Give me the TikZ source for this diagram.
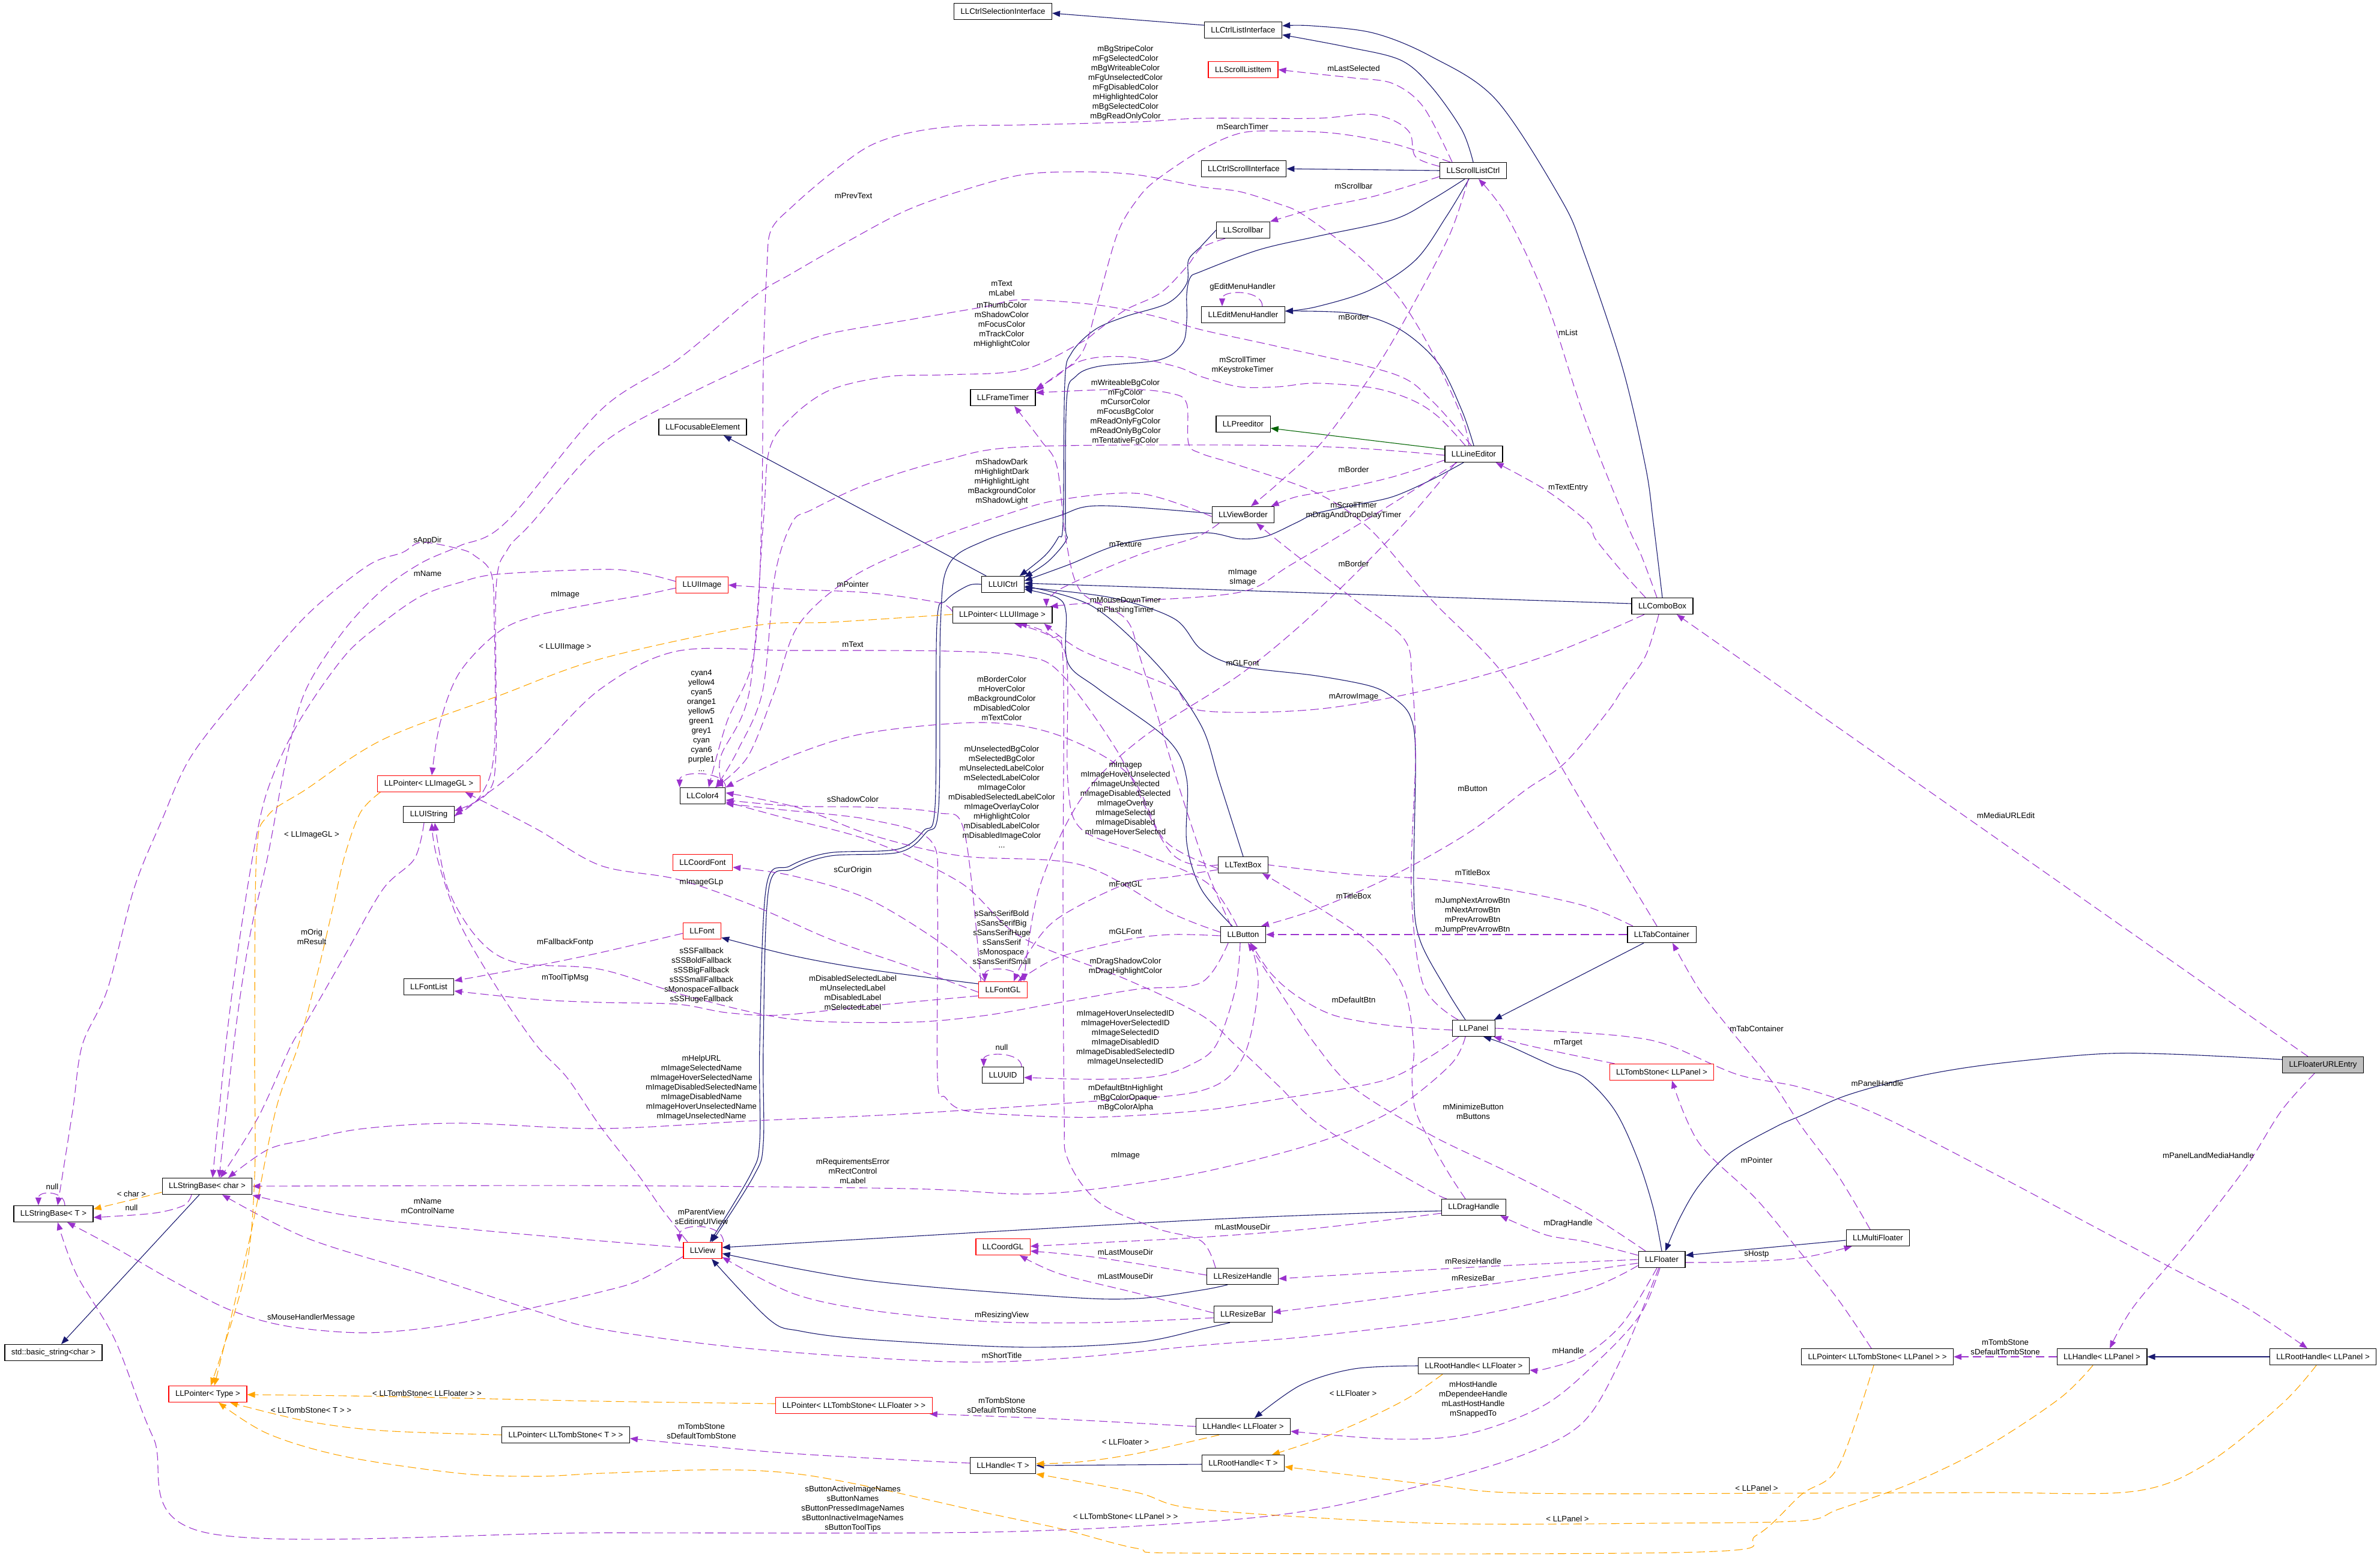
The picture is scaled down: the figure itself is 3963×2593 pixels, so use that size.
\documentclass[tikz,border=0pt]{standalone}
\usepackage{fontspec}
\setmainfont{Liberation Sans}
\usetikzlibrary{arrows.meta,backgrounds}
\definecolor{navy}{HTML}{191970}
\definecolor{usepurple}{HTML}{9A32CD}
\definecolor{tmplorange}{HTML}{FFA500}
\definecolor{protgreen}{HTML}{006400}
\definecolor{rootgrey}{HTML}{BFBFBF}

\begin{document}
\begin{tikzpicture}[x=1pt,y=-1pt,
  font=\fontsize{13.2}{16}\selectfont,
  cls/.style={draw=black, fill=white, line width=1.2pt, inner xsep=11pt, inner ysep=0pt, minimum height=27pt},
  clsred/.style={cls, draw=red},
  clsmain/.style={cls, fill=rootgrey},
  lbl/.style={align=center, inner sep=0pt},
  inh/.style={color=navy, line width=1.1pt, smooth, tension=0.55, -{Triangle[length=13pt,width=10pt]}},
  prot/.style={inh, color=protgreen},
  use/.style={color=usepurple, line width=1.1pt, dash pattern=on 14pt off 7pt, smooth, tension=0.55, -{Triangle[length=13pt,width=10pt]}},
  tmpl/.style={use, color=tmplorange},
]
\useasboundingbox (0,0) rectangle (3963,2593);

% classes
\node[cls] (ctrlsel) at (1670,19) {LLCtrlSelectionInterface};
\node[cls] (ctrllist) at (2070,50) {LLCtrlListInterface};
\node[clsred] (slitem) at (2070,116) {LLScrollListItem};
\node[cls] (ctrlscroll) at (2071,281) {LLCtrlScrollInterface};
\node[cls] (slctrl) at (2453,284) {LLScrollListCtrl};
\node[cls] (scrollbar) at (2070,383) {LLScrollbar};
\node[cls] (editmenu) at (2070,524) {LLEditMenuHandler};
\node[cls] (frametimer) at (1670,662) {LLFrameTimer};
\node[cls] (preeditor) at (2070,706) {LLPreeditor};
\node[cls] (focusable) at (1170,711) {LLFocusableElement};
\node[cls] (lineeditor) at (2454,756) {LLLineEditor};
\node[cls] (viewborder) at (2070,857) {LLViewBorder};
\node[clsred] (uiimage) at (1169,974) {LLUIImage};
\node[cls] (uictrl) at (1670,973) {LLUICtrl};
\node[cls] (ptruiimage) at (1669,1024) {LLPointer< LLUIImage >};
\node[cls] (combobox) at (2768,1009) {LLComboBox};
\node[cls] (color4) at (1170,1325) {LLColor4};
\node[clsred] (ptrimagegl) at (714,1305) {LLPointer< LLImageGL >};
\node[cls] (uistring) at (714,1356) {LLUIString};
\node[clsred] (coordfont) at (1170,1436) {LLCoordFont};
\node[cls] (textbox) at (2070,1440) {LLTextBox};
\node[clsred] (font) at (1169,1550) {LLFont};
\node[cls] (button) at (2070,1556) {LLButton};
\node[cls] (tabcont) at (2767,1556) {LLTabContainer};
\node[cls] (fontlist) at (714,1643) {LLFontList};
\node[clsred] (fontgl) at (1670,1648) {LLFontGL};
\node[cls] (panel) at (2454,1712) {LLPanel};
\node[cls] (uuid) at (1670,1790) {LLUUID};
\node[clsred] (tombpanel) at (2767,1785) {LLTombStone< LLPanel >};
\node[clsmain] (urlentry) at (3868,1773) {LLFloaterURLEntry};
\node[cls] (strchar) at (345,1975) {LLStringBase< char >};
\node[cls] (strT) at (89,2021) {LLStringBase< T >};
\node[cls] (draghandle) at (2454,2010) {LLDragHandle};
\node[clsred] (view) at (1170,2082) {LLView};
\node[clsred] (coordgl) at (1670,2076) {LLCoordGL};
\node[cls] (resizehandle) at (2069,2125) {LLResizeHandle};
\node[cls] (multifloater) at (3127,2061) {LLMultiFloater};
\node[cls] (floater) at (2767,2097) {LLFloater};
\node[cls] (resizebar) at (2070,2188) {LLResizeBar};
\node[cls] (basicstr) at (89,2252) {std::basic\_string<char >};
\node[cls] (roothfloater) at (2454,2274) {LLRootHandle< LLFloater >};
\node[clsred] (ptrtype) at (346,2321) {LLPointer< Type >};
\node[clsred] (ptrtsfloater) at (1422,2340) {LLPointer< LLTombStone< LLFloater > >};
\node[cls] (ptrtsT) at (942,2389) {LLPointer< LLTombStone< T > >};
\node[cls] (ptrtspanel) at (3126,2259) {LLPointer< LLTombStone< LLPanel > >};
\node[cls] (hpanel) at (3500,2259) {LLHandle< LLPanel >};
\node[cls] (rhpanel) at (3868,2259) {LLRootHandle< LLPanel >};
\node[cls] (hfloater) at (2070,2375) {LLHandle< LLFloater >};
\node[cls] (handleT) at (1670,2440) {LLHandle< T >};
\node[cls] (roothT) at (2070,2436) {LLRootHandle< T >};

% member labels
\node[lbl] (l1) at (1874,138) {mBgStripeColor\\mFgSelectedColor\\mBgWriteableColor\\mFgUnselectedColor\\mFgDisabledColor\\mHighlightedColor\\mBgSelectedColor\\mBgReadOnlyColor};
\node[lbl] (l2) at (1421,326) {mPrevText};
\node[lbl] (l3) at (1668,480) {mText\\mLabel};
\node[lbl] (l4) at (1668,541) {mThumbColor\\mShadowColor\\mFocusColor\\mTrackColor\\mHighlightColor};
\node[lbl] (l5) at (1874,686) {mWriteableBgColor\\mFgColor\\mCursorColor\\mFocusBgColor\\mReadOnlyFgColor\\mReadOnlyBgColor\\mTentativeFgColor};
\node[lbl] (l6) at (1668,802) {mShadowDark\\mHighlightDark\\mHighlightLight\\mBackgroundColor\\mShadowLight};
\node[lbl] (l7) at (2254,114) {mLastSelected};
\node[lbl] (l8) at (2069,211) {mSearchTimer};
\node[lbl] (l9) at (2254,310) {mScrollbar};
\node[lbl] (l10) at (2069,478) {gEditMenuHandler};
\node[lbl] (l11) at (2254,528) {mBorder};
\node[lbl] (l12) at (2611,554) {mList};
\node[lbl] (l13) at (2069,608) {mScrollTimer\\mKeystrokeTimer};
\node[lbl] (l14) at (2254,782) {mBorder};
\node[lbl] (l15) at (2611,812) {mTextEntry};
\node[lbl] (l16) at (2254,850) {mScrollTimer\\mDragAndDropDelayTimer};
\node[lbl] (l17) at (712,900) {sAppDir};
\node[lbl] (l18) at (712,955) {mName};
\node[lbl] (l19) at (941,990) {mImage};
\node[lbl] (l20) at (941,1077) {< LLUIImage >};
\node[lbl] (l21) at (519,1390) {< LLImageGL >};
\node[lbl] (l22) at (519,1560) {mOrig\\mResult};
\node[lbl] (l23) at (941,1569) {mFallbackFontp};
\node[lbl] (l24) at (941,1628) {mToolTipMsg};
\node[lbl] (l25) at (1874,906) {mTexture};
\node[lbl] (l26) at (1420,973) {mPointer};
\node[lbl] (l27) at (1874,1008) {mMouseDownTimer\\mFlashingTimer};
\node[lbl] (l28) at (1420,1073) {mText};
\node[lbl] (l29) at (1168,1200) {cyan4\\yellow4\\cyan5\\orange1\\yellow5\\green1\\grey1\\cyan\\cyan6\\purple1\\...};
\node[lbl] (l30) at (1668,1163) {mBorderColor\\mHoverColor\\mBackgroundColor\\mDisabledColor\\mTextColor};
\node[lbl] (l31) at (1668,1327) {mUnselectedBgColor\\mSelectedBgColor\\mUnselectedLabelColor\\mSelectedLabelColor\\mImageColor\\mDisabledSelectedLabelColor\\mImageOverlayColor\\mHighlightColor\\mDisabledLabelColor\\mDisabledImageColor\\...};
\node[lbl] (l32) at (1874,1330) {mImagep\\mImageHoverUnselected\\mImageUnselected\\mImageDisabledSelected\\mImageOverlay\\mImageSelected\\mImageDisabled\\mImageHoverSelected};
\node[lbl] (l33) at (1420,1331) {sShadowColor};
\node[lbl] (l34) at (1420,1449) {sCurOrigin};
\node[lbl] (l35) at (1168,1469) {mImageGLp};
\node[lbl] (l36) at (1874,1472) {mFontGL};
\node[lbl] (l37) at (1668,1561) {sSansSerifBold\\sSansSerifBig\\sSansSerifHuge\\sSansSerif\\sMonospace\\sSansSerifSmall};
\node[lbl] (l38) at (1874,1551) {mGLFont};
\node[lbl] (l39) at (1168,1624) {sSSFallback\\sSSBoldFallback\\sSSBigFallback\\sSSSmallFallback\\sMonospaceFallback\\sSSHugeFallback};
\node[lbl] (l40) at (1874,1609) {mDragShadowColor\\mDragHighlightColor};
\node[lbl] (l41) at (1420,1653) {mDisabledSelectedLabel\\mUnselectedLabel\\mDisabledLabel\\mSelectedLabel};
\node[lbl] (l42) at (1874,1728) {mImageHoverUnselectedID\\mImageHoverSelectedID\\mImageSelectedID\\mImageDisabledID\\mImageDisabledSelectedID\\mImageUnselectedID};
\node[lbl] (l43) at (1668,1744) {null};
\node[lbl] (l44) at (1168,1811) {mHelpURL\\mImageSelectedName\\mImageHoverSelectedName\\mImageDisabledSelectedName\\mImageDisabledName\\mImageHoverUnselectedName\\mImageUnselectedName};
\node[lbl] (l45) at (1874,1828) {mDefaultBtnHighlight\\mBgColorOpaque\\mBgColorAlpha};
\node[lbl] (l46) at (1874,1924) {mImage};
\node[lbl] (l47) at (1420,1950) {mRequirementsError\\mRectControl\\mLabel};
\node[lbl] (l48) at (1168,2027) {mParentView\\sEditingUIView};
\node[lbl] (l49) at (1874,2085) {mLastMouseDir};
\node[lbl] (l50) at (1874,2125) {mLastMouseDir};
\node[lbl] (l51) at (1668,2190) {mResizingView};
\node[lbl] (l52) at (1668,2257) {mShortTitle};
\node[lbl] (l53) at (1668,2340) {mTombStone\\sDefaultTombStone};
\node[lbl] (l54) at (1168,2383) {mTombStone\\sDefaultTombStone};
\node[lbl] (l55) at (1874,2401) {< LLFloater >};
\node[lbl] (l56) at (1420,2512) {sButtonActiveImageNames\\sButtonNames\\sButtonPressedImageNames\\sButtonInactiveImageNames\\sButtonToolTips};
\node[lbl] (l57) at (1874,2525) {< LLTombStone< LLPanel > >};
\node[lbl] (l58) at (2254,939) {mBorder};
\node[lbl] (l59) at (2069,961) {mImage\\sImage};
\node[lbl] (l60) at (2069,1104) {mGLFont};
\node[lbl] (l61) at (2254,1160) {mArrowImage};
\node[lbl] (l62) at (2452,1313) {mButton};
\node[lbl] (l63) at (2452,1453) {mTitleBox};
\node[lbl] (l64) at (2254,1492) {mTitleBox};
\node[lbl] (l65) at (2452,1524) {mJumpNextArrowBtn\\mNextArrowBtn\\mPrevArrowBtn\\mJumpPrevArrowBtn};
\node[lbl] (l66) at (2254,1665) {mDefaultBtn};
\node[lbl] (l67) at (2925,1713) {mTabContainer};
\node[lbl] (l68) at (2611,1736) {mTarget};
\node[lbl] (l69) at (3340,1358) {mMediaURLEdit};
\node[lbl] (l70) at (87,1976) {null};
\node[lbl] (l71) at (219,1988) {< char >};
\node[lbl] (l72) at (219,2011) {null};
\node[lbl] (l73) at (712,2008) {mName\\mControlName};
\node[lbl] (l74) at (518,2194) {sMouseHandlerMessage};
\node[lbl] (l75) at (711,2320) {< LLTombStone< LLFloater > >};
\node[lbl] (l76) at (518,2348) {< LLTombStone< T > >};
\node[lbl] (l77) at (2453,1851) {mMinimizeButton\\mButtons};
\node[lbl] (l78) at (2925,1932) {mPointer};
\node[lbl] (l79) at (2611,2037) {mDragHandle};
\node[lbl] (l80) at (2925,2088) {sHostp};
\node[lbl] (l81) at (2453,2100) {mResizeHandle};
\node[lbl] (l82) at (2453,2128) {mResizeBar};
\node[lbl] (l83) at (2611,2249) {mHandle};
\node[lbl] (l84) at (2253,2320) {< LLFloater >};
\node[lbl] (l85) at (2453,2330) {mHostHandle\\mDependeeHandle\\mLastHostHandle\\mSnappedTo};
\node[lbl] (l86) at (2925,2478) {< LLPanel >};
\node[lbl] (l87) at (2610,2529) {< LLPanel >};
\node[lbl] (l88) at (3126,1804) {mPanelHandle};
\node[lbl] (l89) at (3677,1924) {mPanelLandMediaHandle};
\node[lbl] (l90) at (3339,2243) {mTombStone\\sDefaultTombStone};
\node[lbl] (l91) at (2069,2043) {mLastMouseDir};

\begin{scope}[on background layer]
% inheritance
\draw[inh] ([yshift=8pt]ctrllist.west) -- ([yshift=-3pt]ctrlsel.east);
\draw[inh] plot coordinates {(slctrl.north) (2434,216) (2383,144) (2332,100) (2242,78) ([yshift=-8pt]ctrllist.east)};
\draw[inh] plot coordinates {(combobox.north) (2753,870) (2740,777) (2701,610) (2638,422) (2600,333) (2491,166) (2383,94) (2287,55) (2185,43) ([yshift=7pt]ctrllist.east)};
\draw[inh] (slctrl.west) -- (ctrlscroll.east);
\draw[inh] plot coordinates {([xshift=-7pt]slctrl.south) (2408,361) (2357,433) (2281,483) (2191,511) ([yshift=6pt]editmenu.east)};
\draw[inh] plot coordinates {(lineeditor.north) (2434,683) (2395,605) (2332,549) (2255,522) ([yshift=6pt]editmenu.east)};
\draw[prot] ([yshift=8pt]lineeditor.west) -- ([yshift=-7pt]preeditor.east);
\draw[inh] plot coordinates {(scrollbar.west) (2000,410) (1979,433) (1976,472) (1944,505) (1874,527) (1823,549) (1784,588) (1773,638) (1770,870) (1762,895) (1740,925) ([xshift=-8pt]uictrl.north east)};
\draw[inh] plot coordinates {([xshift=-14pt]slctrl.south) (2383,333) (2319,366) (2191,394) (2096,416) (2000,452) (1982,462) (1976,490) (1976,533) (1969,572) (1931,599) (1829,610) (1791,627) (1776,666) (1774,870) (1776,898) (1745,935) ([yshift=-2pt]uictrl.north east)};
\draw[inh] plot coordinates {([xshift=-17pt]lineeditor.south) (2383,799) (2319,827) (2255,841) (2191,855) (2159,870) (2108,893) (2064,897) (2000,887) (1870,905) (1780,940) ([yshift=6pt]uictrl.east)};
\draw[inh] ([yshift=4pt]combobox.west) -- ([yshift=2pt]uictrl.east);
\draw[inh] plot coordinates {(textbox.north) (2030,1300) (2000,1208) (1930,1110) (1820,1010) ([yshift=-3pt]uictrl.east)};
\draw[inh] plot coordinates {([xshift=-18pt]button.north) (2000,1480) (1976,1403) (1976,1297) (1944,1231) (1829,1147) (1778,1103) (1775,1020) (1760,995) ([yshift=-8pt]uictrl.east)};
\draw[inh] plot coordinates {([xshift=-14pt]panel.north) (2408,1647) (2364,1564) (2354,1480) (2357,1258) (2348,1192) (2319,1161) (2281,1142) (2191,1125) (2064,1109) (2000,1081) (1955,1030) (1850,995) ([yshift=-5pt]uictrl.east)};
\draw[inh] ([xshift=8pt]uictrl.north west) -- ([xshift=35pt]focusable.south);
\draw[inh] plot coordinates {([yshift=10pt]fontgl.west) (1446,1614) (1319,1591) ([yshift=-11pt]font.east)};
\draw[inh] ([xshift=-13pt]strchar.south) -- ([xshift=13pt]basicstr.north);
\draw[inh] plot coordinates {([yshift=-6pt]draghandle.west) (2000,2031) ([yshift=5pt]view.east)};
\draw[inh] plot coordinates {([xshift=-25pt]resizehandle.south) (2000,2148) (1893,2162) (1765,2159) (1446,2132) ([yshift=-5pt]view.east)};
\draw[inh] plot coordinates {([xshift=-22pt]resizebar.south) (2000,2213) (1893,2235) (1702,2243) (1446,2230) (1332,2216) (1281,2197) ([xshift=15pt]view.south)};
\draw[inh] ([xshift=-30pt]tabcont.south) -- ([xshift=-2pt]panel.north east);
\draw[inh] plot coordinates {(floater.north) (2753,2012) (2727,1930) (2689,1849) (2638,1794) (2587,1775) (2510,1740) ([xshift=16pt]panel.south)};
\draw[inh] ([yshift=-4pt]multifloater.west) -- ([yshift=7pt]floater.east);
\draw[inh] plot coordinates {([yshift=9pt]urlentry.west) (3614,1755) (3491,1755) (3307,1773) (3184,1794) (3074,1824) (3000,1857) (2957,1876) (2880,1920) (2829,1974) (2797,2028) ([xshift=6pt]floater.north)};
\draw[inh] (rhpanel.west) -- (hpanel.east);
\draw[inh] plot coordinates {(roothfloater.west) (2255,2279) (2166,2306) ([xshift=19pt]hfloater.north)};
\draw[inh] ([yshift=-2pt]roothT.west) -- (handleT.east);
\draw[inh] plot coordinates {([yshift=2pt]viewborder.west) (1830,842) (1760,860) (1640,900) (1580,940) (1566,1040) (1563,1342) (1542,1386) (1497,1419) (1383,1425) (1319,1447) (1280,1480) (1271,1740) (1271,1903) (1255,1958) ([xshift=15pt]view.north)};
\draw[inh] plot coordinates {(uictrl.west) (1612,975) (1575,1000) (1560,1040) (1557,1342) (1538,1383) (1494,1414) (1380,1420) (1315,1442) (1276,1476) (1265,1740) (1265,1900) (1250,1955) ([xshift=12pt]view.north)};

% usage
\draw[use] plot coordinates {([xshift=-35pt]slctrl.north) (2370,178) (2319,139) (2255,130) (2191,123) (slitem.east)};
\draw[use] plot coordinates {([xshift=-38pt]slctrl.north) (2319,239) (2223,222) (2128,218) (2064,222) (2000,250) (1925,300) (1893,333) (1861,388) (1829,499) (1804,583) (1765,622) (frametimer.north east)};
\draw[use] plot coordinates {([yshift=7pt]slctrl.west) (2357,261) (2348,222) (2319,200) (2274,190) (2191,197) (2000,197) (1893,203) (1702,208) (1593,210) (1510,222) (1446,244) (1383,289) (1319,344) (1284,383) (1277,444) (1271,610) (1268,870) (1255,1092) (1210,1203) ([xshift=10pt]color4.north)};
\draw[use] plot coordinates {([yshift=-10pt]slctrl.west) (2287,327) (2191,347) (scrollbar.north east)};
\draw[use] plot coordinates {([xshift=-8pt]slctrl.south) (2415,388) (2357,500) (2293,610) (2204,733) (2128,805) ([xshift=13pt]viewborder.north)};
\draw[use] ([xshift=32pt]editmenu.north) .. controls +(0,-28) and +(0,-28) .. ([xshift=-35pt]editmenu.north);
\draw[use] plot coordinates {([xshift=-9pt]combobox.north) (2733,925) (2708,870) (2638,694) (2574,499) (2510,361) ([xshift=9pt]slctrl.south)};
\draw[use] plot coordinates {([xshift=-28pt]combobox.north) (2702,953) (2657,898) (2644,870) (2574,816) ([xshift=-12pt]lineeditor.south east)};
\draw[use] plot coordinates {([xshift=-14pt]lineeditor.north) (2395,694) (2351,666) (2287,646) (2191,638) (2128,644) (2064,644) (2000,627) (1957,610) (1874,594) (1797,602) ([yshift=-3pt]frametimer.north east)};
\draw[use] plot coordinates {([yshift=-2pt]lineeditor.west) (2255,746) (2064,741) (1702,744) (1574,766) (1446,805) (1351,849) (1319,870) (1290,960) (1270,1150) (1228,1250) ([xshift=22pt]color4.north)};
\draw[use] plot coordinates {([yshift=-10pt]lineeditor.west) (2319,794) (2223,816) (2159,827) ([xshift=-6pt]viewborder.north east)};
\draw[use] plot coordinates {([xshift=-8pt]tabcont.north) (2638,1342) (2510,1131) (2383,998) (2280,880) (2191,820) (2064,775) (2000,755) (1979,738) (1976,672) (1950,655) (1874,648) ([yshift=-6pt]frametimer.north east)};
\draw[use] plot coordinates {([xshift=-8pt]lineeditor.north) (2434,694) (2383,583) (2332,499) (2281,444) (2236,405) (2166,355) (2128,339) (2064,319) (2000,311) (1893,291) (1797,286) (1702,291) (1606,316) (1510,350) (1415,400) (1319,455) (1255,494) (1128,599) (1000,683) (842,870) (765,909) (702,937) (638,981) (574,1048) (510,1147) (478,1258) (446,1425) (415,1564) (389,1740) ([xshift=20pt]strchar.north)};
\draw[use] plot coordinates {([xshift=-4pt]lineeditor.north) (2383,666) (2319,622) (2128,577) (2000,549) (1925,527) (1829,508) (1702,499) (1638,511) (1510,533) (1383,555) (1319,577) (1255,605) (1128,666) (1000,741) (886,870) (845,915) (826,980) (826,1250) (812,1320) ([yshift=6pt]uistring.east)};
\draw[use] plot coordinates {([xshift=-30pt]scrollbar.south) (2000,413) (1976,444) (1932,488) (1874,516) (1829,549) (1797,572) (1702,616) (1574,624) (1478,627) (1383,649) (1319,694) (1281,749) (1271,870) (1248,1150) (1200,1260) ([xshift=34pt]color4.north)};
\draw[use] plot coordinates {([yshift=-3pt]viewborder.west) (1900,822) (1765,832) (1670,858) (1550,900) (1420,960) (1330,1040) (1290,1150) (1245,1260) ([xshift=21pt]color4.north)};
\draw[use] plot coordinates {([yshift=-3pt]uistring.east) (800,1325) (823,1250) (823,1036) (818,955) (790,925) (765,914) (702,903) (670,920) (612,942) (510,1025) (415,1136) (319,1258) (268,1369) (223,1480) (179,1647) (137,1740) (121,1849) ([xshift=7pt]strT.north)};
\draw[use] plot coordinates {([yshift=6pt]uiimage.west) (1064,953) (1000,948) (829,956) (765,970) (702,992) (638,1036) (574,1092) (497,1203) (446,1314) (421,1425) (395,1591) (376,1740) ([xshift=9pt]strchar.north)};
\draw[use] plot coordinates {([yshift=-5pt]uiimage.west) (1064,992) (1000,1003) (893,1025) (829,1053) (765,1120) (733,1203) ([xshift=5pt]ptrimagegl.north)};
\draw[use] plot coordinates {([yshift=6pt]ptruiimage.west) (1561,1003) (1446,987) (1319,981) (uiimage.east)};
\draw[use] plot coordinates {([xshift=-40pt]viewborder.south) (1990,895) (1893,925) (1765,981) ([xshift=-10pt]ptruiimage.north east)};
\draw[use] plot coordinates {([xshift=-8pt]uistring.south) (690,1430) (638,1480) (574,1591) (510,1702) (485,1740) (430,1860) ([xshift=22pt]strchar.north)};
\draw[use] plot coordinates {([yshift=-4pt]font.west) (1000,1586) (893,1608) ([yshift=10pt]fontlist.east)};
\draw[use] plot coordinates {([xshift=-25pt]view.north) (1100,2010) (1064,1958) (1000,1876) (944,1794) (893,1740) (829,1647) (765,1536) (727,1425) ([xshift=5pt]uistring.south)};
\draw[use] plot coordinates {(textbox.west) (1950,1420) (1860,1250) (1765,1120) (1702,1092) (1574,1084) (1319,1083) (1128,1084) (1000,1147) (893,1253) (829,1308) ([yshift=-2pt]uistring.east)};
\draw[use] plot coordinates {([yshift=-6pt]textbox.west) (1940,1400) (1880,1290) (1765,1225) (1638,1203) (1446,1220) (1319,1258) ([yshift=14pt]color4.east)};
\draw[use] plot coordinates {([yshift=4pt]button.west) (1950,1520) (1800,1440) (1600,1425) (1450,1390) (1330,1345) ([yshift=5pt]color4.east)};
\draw[use] plot coordinates {([xshift=-10pt]button.north) (2010,1470) (1900,1420) (1800,1380) (1778,1300) (1776,1100) (1745,1055) ([xshift=28pt]ptruiimage.south)};
\draw[use] plot coordinates {([xshift=-5pt]button.south) (2057,1647) (2025,1740) (1982,1773) (1925,1792) (1829,1797) ([yshift=-4pt]uuid.east)};
\draw[use] ([xshift=-4pt]uuid.north east) .. controls +(0,-25) and +(0,-25) .. ([xshift=3pt]uuid.north west);
\draw[use] plot coordinates {([xshift=-25pt]panel.south) (2380,1760) (2300,1800) (2128,1830) (2000,1849) (1829,1860) (1702,1857) (1606,1849) (1574,1827) (1561,1794) (1561,1500) (1550,1400) (1450,1365) (1300,1348) ([yshift=-13pt]color4.east)};
\draw[use] plot coordinates {([xshift=-45pt]resizehandle.north) (2000,2066) (1925,2045) (1829,2001) (1778,1930) (1772,1849) (1770,1500) (1770,1100) (1750,1060) ([xshift=20pt]ptruiimage.south)};
\draw[use] plot coordinates {([xshift=-14pt]panel.south) (2415,1773) (2319,1849) (2191,1903) (2000,1952) (1829,1979) (1702,1988) (1510,1979) (1000,1974) (strchar.east)};
\draw[use] plot coordinates {([xshift=12pt]button.south) (2095,1640) (2070,1760) (2000,1816) (1800,1835) (1500,1855) (1255,1866) (1000,1879) (765,1870) (606,1879) (510,1898) (446,1914) ([xshift=35pt]strchar.north)};
\draw[use] ([xshift=2pt]view.north east) .. controls +(0,-32) and +(0,-32) .. ([xshift=-6pt]view.north west);
\draw[use] plot coordinates {([yshift=5pt]view.west) (1000,2066) (765,2045) (574,2023) ([yshift=-15pt]strchar.east)};
\draw[use] plot coordinates {([yshift=-10pt]view.west) (1064,2132) (1000,2151) (861,2183) (733,2208) (606,2219) (478,2208) (383,2181) (287,2132) (191,2077) ([xshift=23pt]strT.south)};
\draw[use] plot coordinates {([yshift=-10pt]floater.west) (2638,2148) (2446,2192) (2191,2224) (2000,2240) (1765,2262) (1574,2267) (1255,2246) (1000,2213) (893,2183) (702,2121) (510,2061) ([xshift=25pt]strchar.south)};
\draw[use] plot coordinates {([xshift=-5pt]floater.south) (2702,2257) (2638,2366) (2542,2420) (2383,2469) (2191,2513) (2000,2534) (1638,2551) (1000,2552) (344,2552) (255,2393) (191,2230) (127,2121) ([xshift=7pt]strT.south)};
\draw[use] plot coordinates {([xshift=-26pt]strchar.south) (306,2007) (255,2020) ([yshift=-6pt]strT.east)};
\draw[use] ([xshift=19pt]strT.north) .. controls +(0,-25) and +(0,-25) .. ([xshift=-25pt]strT.north);
\draw[use] plot coordinates {([yshift=-3pt]panel.west) (2319,1708) (2223,1691) (2159,1658) (2115,1619) ([xshift=13pt]button.south)};
\draw[use] (tabcont.west) -- (button.east);
\draw[use] plot coordinates {([xshift=-48pt]tabcont.north) (2638,1508) (2510,1481) (2383,1464) (2255,1456) (2128,1442) ([yshift=1pt]textbox.east)};
\draw[use] plot coordinates {([xshift=-14pt]draghandle.north) (2415,1958) (2383,1903) (2357,1849) (2351,1794) (2354,1740) (2338,1647) (2287,1575) (2191,1508) ([xshift=-10pt]textbox.south east)};
\draw[use] plot coordinates {([xshift=-6pt]combobox.south) (2740,1092) (2702,1147) (2676,1186) (2606,1270) (2542,1314) (2446,1386) (2319,1458) (2191,1514) ([xshift=-8pt]button.north east)};
\draw[use] plot coordinates {([xshift=-30pt]combobox.south) (2574,1092) (2383,1147) (2191,1181) (2000,1183) (1957,1147) (1893,1120) (1797,1081) ([xshift=-14pt]ptruiimage.south east)};
\draw[use] plot coordinates {([xshift=-26pt]panel.north) (2370,1640) (2350,1480) (2357,1258) (2351,1131) (2338,1064) (2255,998) (2159,925) ([xshift=22pt]viewborder.south)};
\draw[use] plot coordinates {([xshift=-30pt]lineeditor.south) (2330,880) (2200,1010) (2069,1120) (1900,1230) (1800,1330) (1730,1480) ([xshift=-6pt]fontgl.north east)};
\draw[use] plot coordinates {([xshift=-28pt]lineeditor.south) (2300,850) (2150,940) (2069,985) (1900,1000) (1800,1005) ([xshift=-4pt]ptruiimage.north east)};
\draw[use] plot coordinates {([yshift=-8pt]textbox.west) (1950,1460) (1874,1472) (1760,1530) (1710,1590) ([xshift=18pt]fontgl.north)};
\draw[use] plot coordinates {([yshift=-2pt]button.west) (1950,1556) (1874,1565) (1760,1595) ([xshift=25pt]fontgl.north)};
\draw[use] ([xshift=30pt]fontgl.north) .. controls +(0,-25) and +(0,-25) .. ([xshift=-30pt]fontgl.north);
\draw[use] plot coordinates {([xshift=-37pt]fontgl.north) (1606,1386) (1561,1353) (1446,1344) (1319,1342) ([yshift=-7pt]color4.east)};
\draw[use] plot coordinates {([xshift=-30pt]fontgl.north) (1574,1575) (1446,1497) (1319,1458) ([yshift=-8pt]coordfont.east)};
\draw[use] plot coordinates {([yshift=-4pt]fontgl.west) (1510,1608) (1383,1564) (1255,1508) (1128,1464) (1000,1441) (893,1380) ([xshift=-25pt]ptrimagegl.south east)};
\draw[use] plot coordinates {([yshift=-10pt]fontgl.west) (1446,1675) (1300,1690) (1210,1686) (1128,1672) (1000,1669) (893,1664) ([yshift=-7pt]fontlist.east)};
\draw[use] plot coordinates {([xshift=-25pt]button.south) (2000,1636) (1893,1647) (1765,1669) (1638,1691) (1510,1702) (1319,1697) (1150,1660) (1000,1614) (861,1603) (797,1564) (746,1480) ([xshift=10pt]uistring.south)};
\draw[use] (color4.north east) .. controls +(0,-28) and +(0,-28) .. (color4.north west);
\draw[use] plot coordinates {([xshift=-20pt]button.north) (2010,1450) (1960,1300) (1900,1100) (1874,1030) (1800,985) (1775,900) (1760,777) (1733,733) ([xshift=19pt]frametimer.south)};
\draw[use] plot coordinates {([xshift=-45pt]draghandle.north) (2383,1984) (2287,1929) (2191,1868) (2128,1807) (2057,1740) (2000,1690) (1874,1630) (1700,1560) (1600,1470) (1450,1400) (1300,1360) ([yshift=-10pt]color4.east)};
\draw[use] ([xshift=-25pt]urlentry.north) -- ([xshift=24pt]combobox.south);
\draw[use] plot coordinates {([xshift=-14pt]urlentry.south) (3799,1849) (3737,1947) (3645,2066) (3553,2175) ([xshift=13pt]hpanel.north)};
\draw[use] plot coordinates {(panel.east) (2574,1716) (2702,1725) (2778,1740) (2893,1789) (3000,1811) (3123,1854) (3307,1947) (3430,2012) (3614,2110) (3737,2175) ([xshift=-26pt]rhpanel.north)};
\draw[use] (hpanel.west) -- (ptrtspanel.east);
\draw[use] plot coordinates {([xshift=-10pt]ptrtspanel.north) (3061,2164) (3000,2088) (2925,1997) (2829,1903) ([xshift=17pt]tombpanel.south)};
\draw[use] plot coordinates {([xshift=9pt]tombpanel.north west) (2606,1754) (2542,1740) ([xshift=-3pt]panel.south east)};
\draw[use] plot coordinates {([xshift=-13pt]multifloater.north) (3061,1958) (3000,1876) (2950,1800) (2880,1713) (2829,1647) ([xshift=18pt]tabcont.south)};
\draw[use] plot coordinates {([yshift=-5pt]floater.east) (2893,2101) (3000,2094) ([xshift=10pt]multifloater.south west)};
\draw[use] plot coordinates {([yshift=7pt]floater.west) (2638,2067) (2574,2056) ([xshift=-10pt]draghandle.south east)};
\draw[use] plot coordinates {([xshift=-27pt]floater.north) (2638,2017) (2510,1951) (2383,1890) (2255,1812) (2191,1740) (2128,1647) ([xshift=8pt]button.south)};
\draw[use] plot coordinates {(floater.west) (2450,2110) ([yshift=-4pt]resizehandle.east)};
\draw[use] plot coordinates {([yshift=-6pt]floater.west) (2446,2143) ([yshift=3pt]resizebar.east)};
\draw[use] plot coordinates {([xshift=-8pt]floater.south) (2702,2203) (2638,2257) (2574,2279) ([yshift=-7pt]roothfloater.east)};
\draw[use] plot coordinates {([xshift=-3pt]floater.south) (2733,2186) (2670,2257) (2574,2338) (2446,2387) (2319,2396) ([yshift=-8pt]hfloater.east)};
\draw[use] plot coordinates {(hfloater.west) (1829,2366) (1702,2360) ([xshift=-5pt]ptrtsfloater.south east)};
\draw[use] plot coordinates {([yshift=4pt]handleT.west) (1510,2431) (1319,2420) (1191,2409) ([yshift=-6pt]ptrtsT.east)};
\draw[use] plot coordinates {([yshift=-10pt]draghandle.west) (2191,2045) (2000,2060) (1829,2069) ([yshift=1pt]coordgl.east)};
\draw[use] plot coordinates {([yshift=2pt]resizehandle.west) (1829,2094) ([yshift=-7pt]coordgl.east)};
\draw[use] plot coordinates {([yshift=2pt]resizebar.west) (1893,2153) (1765,2121) ([xshift=28pt]coordgl.south)};
\draw[use] plot coordinates {([yshift=-6pt]resizebar.west) (1829,2202) (1638,2200) (1446,2181) (1319,2153) ([yshift=-11pt]view.east)};

% template instances
\draw[tmpl] plot coordinates {([yshift=-10pt]strchar.west) (230,1995) ([yshift=8pt]strT.east)};
\draw[tmpl] plot coordinates {([xshift=5pt]ptrimagegl.south west) (600,1353) (574,1425) (555,1508) (529,1619) (497,1740) (459,1849) (415,2066) ([xshift=11pt]ptrtype.north)};
\draw[tmpl] plot coordinates {([yshift=1pt]ptruiimage.west) (1383,1036) (1255,1042) (1000,1097) (829,1159) (638,1231) (510,1314) (446,1358) (427,1425) (424,1740) (424,1958) (408,2121) ([xshift=5pt]ptrtype.north)};
\draw[tmpl] plot coordinates {([yshift=3pt]ptrtsfloater.west) (1000,2333) (638,2325) ([yshift=-1pt]ptrtype.east)};
\draw[tmpl] plot coordinates {(ptrtsT.west) (638,2382) (510,2366) ([xshift=37pt]ptrtype.south)};
\draw[tmpl] plot coordinates {([xshift=-6pt]ptrtspanel.south) (3061,2442) (3000,2488) (2925,2556) (2829,2584) (2000,2586) (1893,2578) (1765,2545) (1638,2518) (1446,2475) (1319,2453) (1191,2447) (1000,2453) (893,2458) (765,2453) (574,2425) (446,2387) ([xshift=18pt]ptrtype.south)};
\draw[tmpl] plot coordinates {([xshift=-15pt]hpanel.south) (3430,2328) (3307,2409) (3184,2469) (3061,2513) (3000,2532) (2765,2536) (2383,2536) (2000,2513) (1893,2485) (handleT.south east)};
\draw[tmpl] plot coordinates {([xshift=-11pt]rhpanel.south) (3799,2338) (3676,2436) (3553,2483) (3307,2485) (3000,2486) (2542,2486) (2383,2472) ([yshift=-6pt]roothT.east)};
\draw[tmpl] plot coordinates {([xshift=-52pt]roothfloater.south) (2344,2328) (2268,2366) (2191,2398) ([xshift=48pt]roothT.north)};
\draw[tmpl] plot coordinates {([xshift=-40pt]hfloater.south) (1893,2420) (1797,2434) ([yshift=3pt]handleT.east)};
\end{scope}
\end{tikzpicture}
\end{document}
